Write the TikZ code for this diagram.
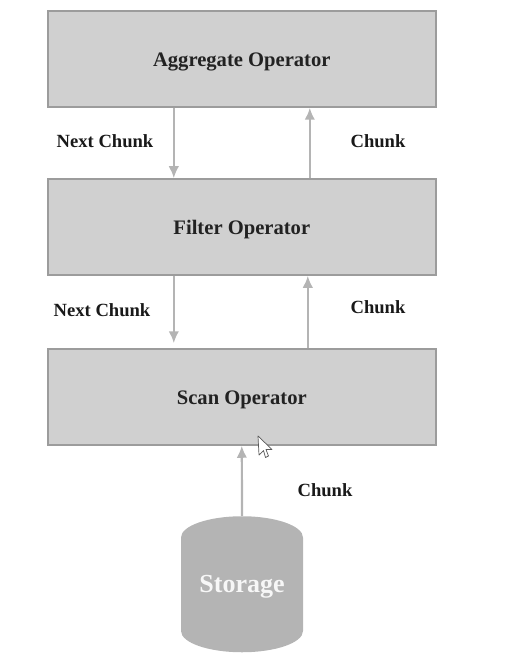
\documentclass[tikz,border=0pt]{standalone}
\usepackage{fontspec}
\setmainfont{Liberation Serif}
\usetikzlibrary{arrows.meta,shapes.geometric}
\definecolor{boxfill}{HTML}{D0D0D0}
\definecolor{boxline}{HTML}{9C9C9C}
\definecolor{flowline}{HTML}{B4B4B4}
\definecolor{inktext}{HTML}{222222}
\tikzset{
  x=1pt, y=1pt,
  operator/.style={draw=boxline, line width=2pt, fill=boxfill, minimum width=388.5pt, minimum height=95.5pt, inner sep=0pt, text=inktext, text height=15.5pt, text depth=0pt, font=\fontsize{20.6}{23}\selectfont\bfseries},
  flow/.style={draw=flowline, line width=2.2pt, -{Latex[length=12pt,width=10.5pt]}},
  flowtext/.style={text=black!90, inner sep=0pt, font=\fontsize{18.6}{21}\selectfont\bfseries},
  pointer/.style={fill=white, draw=black!65, line width=.7pt, line join=round}
}
\begin{document}
\begin{tikzpicture}
        \useasboundingbox (0,0) rectangle (523,-663);
        \node [operator] (aggregate) at (241.8,-59) {Aggregate Operator};
        \node [operator] (filter) at (241.8,-227) {Filter Operator};
        \node [operator] (scan) at (241.8,-397) {Scan Operator};
        \node [cylinder, shape border rotate=90, aspect=.5, fill=flowline, minimum width=122pt, minimum height=136pt, inner sep=0pt, text=white!97!black, text height=18pt, text depth=24pt, font=\fontsize{26}{29}\selectfont\bfseries] (storage) at (242,-595) {Storage};

        \node [flowtext] (nextupper) at (105,-141) {Next Chunk};
        \node [flowtext] (chunkupper) at (378,-141) {Chunk};
        \node [flowtext] (nextlower) at (102,-310) {Next Chunk};
        \node [flowtext] (chunklower) at (378,-307) {Chunk};
        \node [flowtext] (chunkstorage) at (325,-490) {Chunk};

        \draw [flow] ([xshift=-68pt]aggregate.south) -- ([xshift=-68pt]filter.north);
        \draw [flow] ([xshift=68pt]filter.north) -- ([xshift=68pt]aggregate.south);
        \draw [flow] ([xshift=-68pt]filter.south) -- ([xshift=-68pt,yshift=5pt]scan.north);
        \draw [flow] ([xshift=66pt]scan.north) -- ([xshift=66pt]filter.south);
        \draw [flow] (storage.north) -- (scan.south);

        \draw [pointer] (258,-436) -- (259,-455) -- (263.5,-450.5) -- (265.5,-457.5) -- (268.5,-456) -- (266,-449.5) -- (272,-449.5) -- cycle;
\end{tikzpicture}
\end{document}
